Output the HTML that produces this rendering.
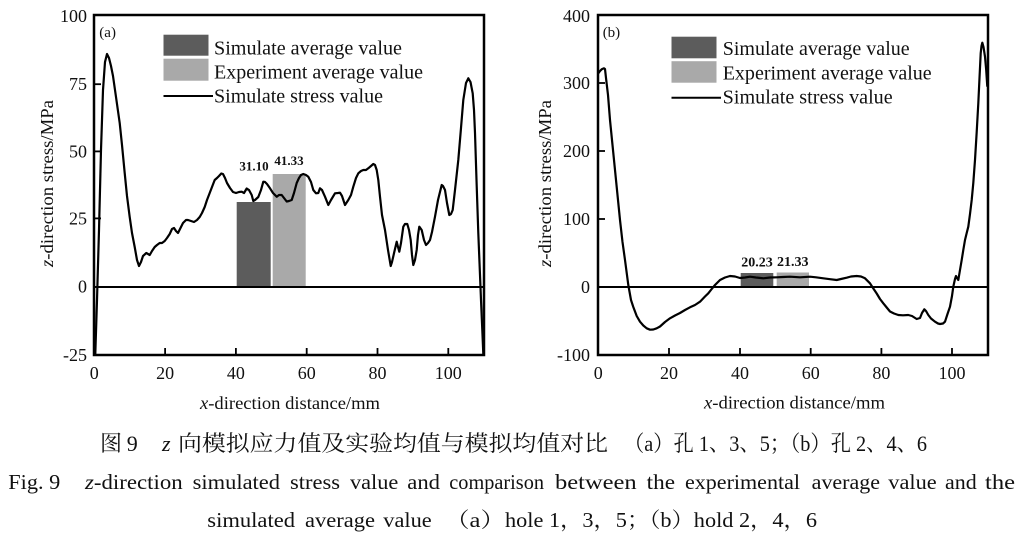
<!DOCTYPE html>
<html><head><meta charset="utf-8"><style>
html,body{margin:0;padding:0;background:#fff;}
svg{display:block;}
.s{font-family:"Liberation Serif","Noto Serif CJK SC",serif;fill:#111;}
.c{font-family:"Liberation Serif","Noto Serif CJK SC",serif;fill:#111;}
</style></head><body>
<svg width="1022" height="538" viewBox="0 0 1022 538" xmlns="http://www.w3.org/2000/svg">
<rect width="1022" height="538" fill="#fff"/>

<!-- ===== Chart (a) ===== -->
<rect x="236.7" y="202" width="34" height="85" fill="#5c5c5c"/>
<rect x="272.7" y="174" width="33" height="113" fill="#a9a9a9"/>
<line x1="94" y1="287" x2="484" y2="287" stroke="#000" stroke-width="2"/>
<polyline fill="none" stroke="#000" stroke-width="2.2" stroke-linejoin="round" points="95.3,354 97,300 99,230 101,150 103,90 105,62 107,54 109,58 111,66 113,76 116,97 119.7,123 122,145 124.7,173 127,196 129.7,217 132,233 134.7,247 137,260 139,266 141,262 143,256 146.3,253 149.7,255 152,251 154.7,247 157,245 159.7,243 162,243 164.7,241 167,238 169.7,234 172,229 174,228 176,231 178,233 180,229 183,223 186,220 188,220 191,221 194,222 197,220 199.7,217 202,213 204.7,207 207,200 209.7,193 212,187 214.7,180 217,178 219,176 221.3,173.5 223,174 225,178 227,183 230,188 233,192 236,193 239,192 241.7,191.7 244,193 246.7,188.5 249,190 251.7,195 253.3,201 255,200 258.3,197 261,190 263.3,181.7 265,182 267,184 270,188.3 273,193 276.7,196.7 279,195 281.7,195 284,198 286.7,201.5 289,201 291.7,200 294,193 296.7,183 299,178 301,175 303.3,174 306,175 308.3,176.7 311,182 313.3,190 316,193.3 318.3,193 320,188.3 322,190 325,196.7 328.3,205 331,200 335,193.3 338,193 340,192.7 342,196 345,205 348.3,200 351,195 353.3,186.7 356,178 358.3,173.3 361,171 363.3,170 366,170 368.3,168.3 371,166 373.3,164 375,165 376.7,170 378.3,180 380,196.7 382,215 385,230 388,250 390.7,266 392,262 394,253.3 396.7,241.7 398,247 399.3,251.7 401,243 403.3,226.7 405,224 407.3,224 409,230 410.7,240 412,255 413.3,265 415,260 416.7,250 418,235 419.3,226.7 421.7,230 424,240 426,245 428,243 430,240 432,232 435,216.7 438,200 441.7,185 443,186 445,190 447,203 449.3,215 451,214 452.7,210 455,190 458.3,160 461,128 463.3,100 466,83 468.3,78.3 470.5,82 472.7,93.3 474,110 475,133 476.5,180 478.3,233 480,275 481,300 482.3,330 483.3,354"/>
<rect x="94" y="15" width="390" height="340" fill="none" stroke="#000" stroke-width="2.5"/>
<g stroke="#000" stroke-width="1.8">
<line x1="165.1" y1="355" x2="165.1" y2="348"/><line x1="235.9" y1="355" x2="235.9" y2="348"/><line x1="306.7" y1="355" x2="306.7" y2="348"/><line x1="377.5" y1="355" x2="377.5" y2="348"/><line x1="448.3" y1="355" x2="448.3" y2="348"/>
<line x1="94" y1="84.2" x2="101" y2="84.2"/><line x1="94" y1="151.4" x2="101" y2="151.4"/><line x1="94" y1="218.4" x2="101" y2="218.4"/>
</g>
<g class="s" font-size="18" text-anchor="end">
<text x="87" y="22">100</text><text x="87" y="90">75</text><text x="87" y="157.5">50</text><text x="87" y="224.5">25</text><text x="87" y="292.5">0</text><text x="87" y="361">-25</text>
</g>
<g class="s" font-size="18" text-anchor="middle">
<text x="94.3" y="379">0</text><text x="165.1" y="379">20</text><text x="235.9" y="379">40</text><text x="306.7" y="379">60</text><text x="377.5" y="379">80</text><text x="448.3" y="379">100</text>
</g>
<text class="s" font-size="18" x="200" y="409" textLength="180" lengthAdjust="spacingAndGlyphs"><tspan font-style="italic">x</tspan>-direction distance/mm</text>
<text class="s" font-size="18" transform="translate(53,267) rotate(-90)" x="0" y="0" textLength="167" lengthAdjust="spacingAndGlyphs"><tspan font-style="italic">z</tspan>-direction stress/MPa</text>
<text class="s" font-size="15" x="99.3" y="37">(a)</text>
<rect x="163.5" y="34.7" width="45" height="21" fill="#5c5c5c"/>
<rect x="163.5" y="58.7" width="45" height="22" fill="#a9a9a9"/>
<line x1="163.5" y1="96" x2="213" y2="96" stroke="#000" stroke-width="2"/>
<text class="s" font-size="20" x="214" y="54.7" textLength="188" lengthAdjust="spacingAndGlyphs">Simulate average value</text>
<text class="s" font-size="20" x="214" y="78.7" textLength="209" lengthAdjust="spacingAndGlyphs">Experiment average value</text>
<text class="s" font-size="20" x="214" y="102.3" textLength="169" lengthAdjust="spacingAndGlyphs">Simulate stress value</text>
<text class="s" font-size="13" x="254" y="170.5" text-anchor="middle" font-weight="bold" fill="#333">31.10</text>
<text class="s" font-size="13" x="289" y="165" text-anchor="middle" font-weight="bold" fill="#333">41.33</text>

<!-- ===== Chart (b) ===== -->
<rect x="740.7" y="273" width="32.6" height="14" fill="#5c5c5c"/>
<rect x="776.7" y="272.5" width="32.3" height="14.5" fill="#a9a9a9"/>
<line x1="598" y1="287" x2="988" y2="287" stroke="#000" stroke-width="2"/>
<polyline fill="none" stroke="#000" stroke-width="2.2" stroke-linejoin="round" points="598.3,73.3 600,71 601.7,69.3 604,68.3 605,69 606,78 608,95 610,120 612.5,145 615,170 617.5,195 620,220 622.5,242 625,260 628.3,285 631,300 633.3,307 636.7,316 640,321.7 643.3,325.5 646.7,328.3 650,329.7 653.3,329.5 656.7,328.3 660,326.5 665,322 670,318.3 675,315.5 680,313 685,310 690,307.3 695,305 700,301.7 705,296.5 708.3,293.3 711.7,289 715,285 720,280 725,277.5 730,276 735,276.5 740,278 745,277.5 750,276.7 756,277.5 763.3,278.3 770,277.5 776.7,277.3 783,277 790,276.7 800,277.3 810,276.7 816,277.3 823.3,278.3 830,279.2 836.7,280 841,279 846.7,277.7 851,276.5 856.7,276 861,276.5 865,278.3 870,283.3 873,288 876.7,293.5 880,299 883.3,303.3 886.7,307.5 890,311.5 894,313.5 898.3,315 903,315.3 908.3,315 912,316 916.7,319 920,318 922,313 924.3,309.3 926,311 928.3,315 931,318.5 935,321.7 938,323.5 940,324 943,323.5 945,321.7 947.5,314 950,306.7 952,296 953.3,286.7 955,279 956,276 957,278 958.3,280 960,270 961.7,260 963.3,250 965,240 966.7,233 968.3,226.7 970,214 971.7,200 973.3,183 975,160 976.7,132 978.3,103.3 979.5,78 980.7,53.3 981.5,46 982.3,42.7 983.5,47 985,56.7 986.2,70 987.3,86.7"/>
<rect x="598" y="15" width="390" height="340" fill="none" stroke="#000" stroke-width="2.5"/>
<g stroke="#000" stroke-width="1.8">
<line x1="669" y1="355" x2="669" y2="348"/><line x1="740" y1="355" x2="740" y2="348"/><line x1="810.7" y1="355" x2="810.7" y2="348"/><line x1="881.4" y1="355" x2="881.4" y2="348"/><line x1="952" y1="355" x2="952" y2="348"/>
<line x1="598" y1="83" x2="605" y2="83"/><line x1="598" y1="151" x2="605" y2="151"/><line x1="598" y1="219" x2="605" y2="219"/>
</g>
<g class="s" font-size="18" text-anchor="end">
<text x="590" y="22">400</text><text x="590" y="89">300</text><text x="590" y="157">200</text><text x="590" y="225">100</text><text x="590" y="293">0</text><text x="590" y="361">-100</text>
</g>
<g class="s" font-size="18" text-anchor="middle">
<text x="598.3" y="379">0</text><text x="669" y="379">20</text><text x="740" y="379">40</text><text x="810.7" y="379">60</text><text x="881.4" y="379">80</text><text x="952" y="379">100</text>
</g>
<text class="s" font-size="18" x="704" y="408.5" textLength="181" lengthAdjust="spacingAndGlyphs"><tspan font-style="italic">x</tspan>-direction distance/mm</text>
<text class="s" font-size="18" transform="translate(551,267) rotate(-90)" x="0" y="0" textLength="167" lengthAdjust="spacingAndGlyphs"><tspan font-style="italic">z</tspan>-direction stress/MPa</text>
<text class="s" font-size="15" x="602.7" y="37">(b)</text>
<rect x="671.5" y="36.7" width="45" height="21.6" fill="#5c5c5c"/>
<rect x="671.5" y="61.2" width="45" height="21.5" fill="#a9a9a9"/>
<line x1="671.5" y1="97.7" x2="721" y2="97.7" stroke="#000" stroke-width="2"/>
<text class="s" font-size="20" x="722.7" y="55" textLength="187" lengthAdjust="spacingAndGlyphs">Simulate average value</text>
<text class="s" font-size="20" x="722.7" y="79.5" textLength="209" lengthAdjust="spacingAndGlyphs">Experiment average value</text>
<text class="s" font-size="20" x="722.7" y="103.5" textLength="170" lengthAdjust="spacingAndGlyphs">Simulate stress value</text>
<text class="s" font-size="14" x="757" y="266.5" text-anchor="middle" font-weight="bold" fill="#333">20.23</text>
<text class="s" font-size="14" x="792.8" y="265.8" text-anchor="middle" font-weight="bold" fill="#333">21.33</text>

<!-- ===== Caption ===== -->
<g class="c" font-size="22">
<text x="100" y="451">图</text>
<text x="126.7" y="451">9</text>
<text x="162" y="451" font-style="italic">z</text>
<text x="178" y="451" textLength="430" lengthAdjust="spacingAndGlyphs">向模拟应力值及实验均值与模拟均值对比</text>
<text x="624" y="451" textLength="303" lengthAdjust="spacingAndGlyphs">（a）孔 1、3、5；（b）孔 2、4、6</text>
</g>
<g class="c" font-size="21">
<text x="8.3" y="489" textLength="52" lengthAdjust="spacingAndGlyphs">Fig. 9</text>
<text x="85" y="489" textLength="97.7" lengthAdjust="spacingAndGlyphs"><tspan font-style="italic">z</tspan>-direction</text>
<text x="192.7" y="489" textLength="87.3" lengthAdjust="spacingAndGlyphs">simulated</text>
<text x="290" y="489" textLength="50" lengthAdjust="spacingAndGlyphs">stress</text>
<text x="350" y="489" textLength="48.3" lengthAdjust="spacingAndGlyphs">value</text>
<text x="407.3" y="489" textLength="32.7" lengthAdjust="spacingAndGlyphs">and</text>
<text x="449.3" y="489" textLength="94.7" lengthAdjust="spacingAndGlyphs">comparison</text>
<text x="555" y="489" textLength="81.7" lengthAdjust="spacingAndGlyphs">between</text>
<text x="646.7" y="489" textLength="28.3" lengthAdjust="spacingAndGlyphs">the</text>
<text x="685" y="489" textLength="115" lengthAdjust="spacingAndGlyphs">experimental</text>
<text x="811.7" y="489" textLength="68.3" lengthAdjust="spacingAndGlyphs">average</text>
<text x="888.3" y="489" textLength="48.4" lengthAdjust="spacingAndGlyphs">value</text>
<text x="945" y="489" textLength="31.7" lengthAdjust="spacingAndGlyphs">and</text>
<text x="985" y="489" textLength="30" lengthAdjust="spacingAndGlyphs">the</text>

<text x="207.3" y="527" textLength="87.7" lengthAdjust="spacingAndGlyphs">simulated</text>
<text x="305" y="527" textLength="70" lengthAdjust="spacingAndGlyphs">average</text>
<text x="383.3" y="527" textLength="48.4" lengthAdjust="spacingAndGlyphs">value</text>
<text x="445" y="527" textLength="60" lengthAdjust="spacingAndGlyphs">（a）</text>
<text x="505" y="527" textLength="312" lengthAdjust="spacingAndGlyphs">hole 1，3，5；（b）hold 2，4，6</text>
</g>
</svg>
</body></html>
